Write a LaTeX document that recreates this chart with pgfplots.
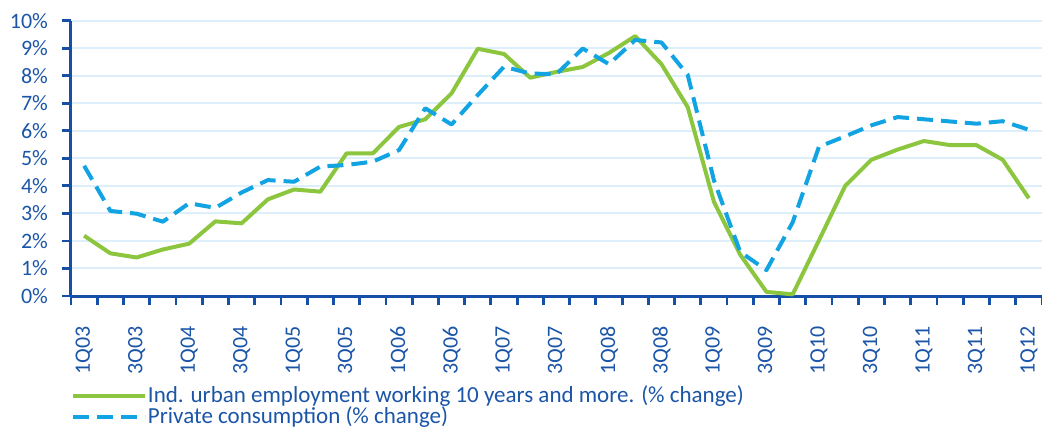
\documentclass[border=0pt]{standalone}
\usepackage{fontspec}
\setmainfont{Carlito}
\usepackage{pgfplots}
\pgfplotsset{compat=1.18}
\definecolor{axisblue}{HTML}{1650A6}
\definecolor{txtblue}{HTML}{1B55A8}
\definecolor{lgreen}{HTML}{8CC63F}
\definecolor{cyanb}{HTML}{12A3E3}
\definecolor{gridb}{HTML}{DCEFFA}
\begin{document}
\begin{tikzpicture}
\begin{axis}[
  scale only axis,
  width=485.5pt, height=137.65pt,
  xmin=-0.5, xmax=36.5, ymin=0, ymax=10,
  axis x line*=bottom, axis y line*=left,
  axis line style={line width=1.5pt, color=axisblue},
  xtick align=outside, ytick align=outside,
  major tick length=4.5pt,
  every tick/.append style={draw=axisblue, line width=1.4pt},
  xtick={-0.5,0.5,...,36.5},
  x tick label as interval,
  xticklabels={1Q03,,3Q03,,1Q04,,3Q04,,1Q05,,3Q05,,1Q06,,3Q06,,1Q07,,3Q07,,1Q08,,3Q08,,1Q09,,3Q09,,1Q10,,3Q10,,1Q11,,3Q11,,1Q12},
  xticklabel style={rotate=90, anchor=east, font=\fontsize{11}{13}\selectfont, text=txtblue},
  xticklabel shift=7pt,
  ytick={0,1,...,10},
  yticklabels={0\%,1\%,2\%,3\%,4\%,5\%,6\%,7\%,8\%,9\%,10\%},
  yticklabel style={font=\fontsize{11}{13}\selectfont, text=txtblue},
  yticklabel shift=3.5pt,
  ymajorgrids,
  grid style={gridb, line width=1pt},
  clip=false,
  legend style={at={([yshift=-44.5pt]axis description cs:0,0)}, anchor=north west,
     draw=none, fill=none, inner sep=0pt, row sep=0pt,
     font=\fontsize{11.5}{12}\selectfont, text=txtblue,
     nodes={inner sep=0.3pt}},
  legend cell align=left,
  legend image code/.code={\draw[#1] (0pt,0pt) -- (36pt,0pt);},
]
\addplot[lgreen, line width=2pt, line join=round] coordinates {
(0,2.19) (1,1.55) (2,1.40) (3,1.69) (4,1.90) (5,2.71) (6,2.64) (7,3.51) (8,3.87) (9,3.79)
(10,5.18) (11,5.18) (12,6.14) (13,6.42) (14,7.36) (15,8.98) (16,8.79) (17,7.93) (18,8.14) (19,8.32)
(20,8.83) (21,9.44) (22,8.42) (23,6.86) (24,3.42) (25,1.50) (26,0.15) (27,0.06) (28,2.02) (29,4.00)
(30,4.95) (31,5.32) (32,5.63) (33,5.48) (34,5.48) (35,4.95) (36,3.55)};
\addlegendentry{Ind. urban employment working 10 years and more. (\% change)}
\addplot[cyanb, line width=2pt, line join=round, dash pattern=on 8pt off 4pt] coordinates {
(0,4.73) (1,3.09) (2,2.99) (3,2.70) (4,3.37) (5,3.20) (6,3.76) (7,4.21) (8,4.15) (9,4.70)
(10,4.76) (11,4.88) (12,5.30) (13,6.82) (14,6.23) (15,7.30) (16,8.33) (17,8.08) (18,8.06) (19,8.99)
(20,8.42) (21,9.30) (22,9.21) (23,8.03) (24,4.20) (25,1.60) (26,0.94) (27,2.68) (28,5.42) (29,5.80)
(30,6.20) (31,6.50) (32,6.42) (33,6.34) (34,6.26) (35,6.35) (36,6.04)};
\addlegendentry{Private consumption (\% change)}
\end{axis}
\pgfresetboundingbox
\path[use as bounding box] (-35.5pt,-67pt) rectangle (485.5pt,148pt);
\end{tikzpicture}
\end{document}
